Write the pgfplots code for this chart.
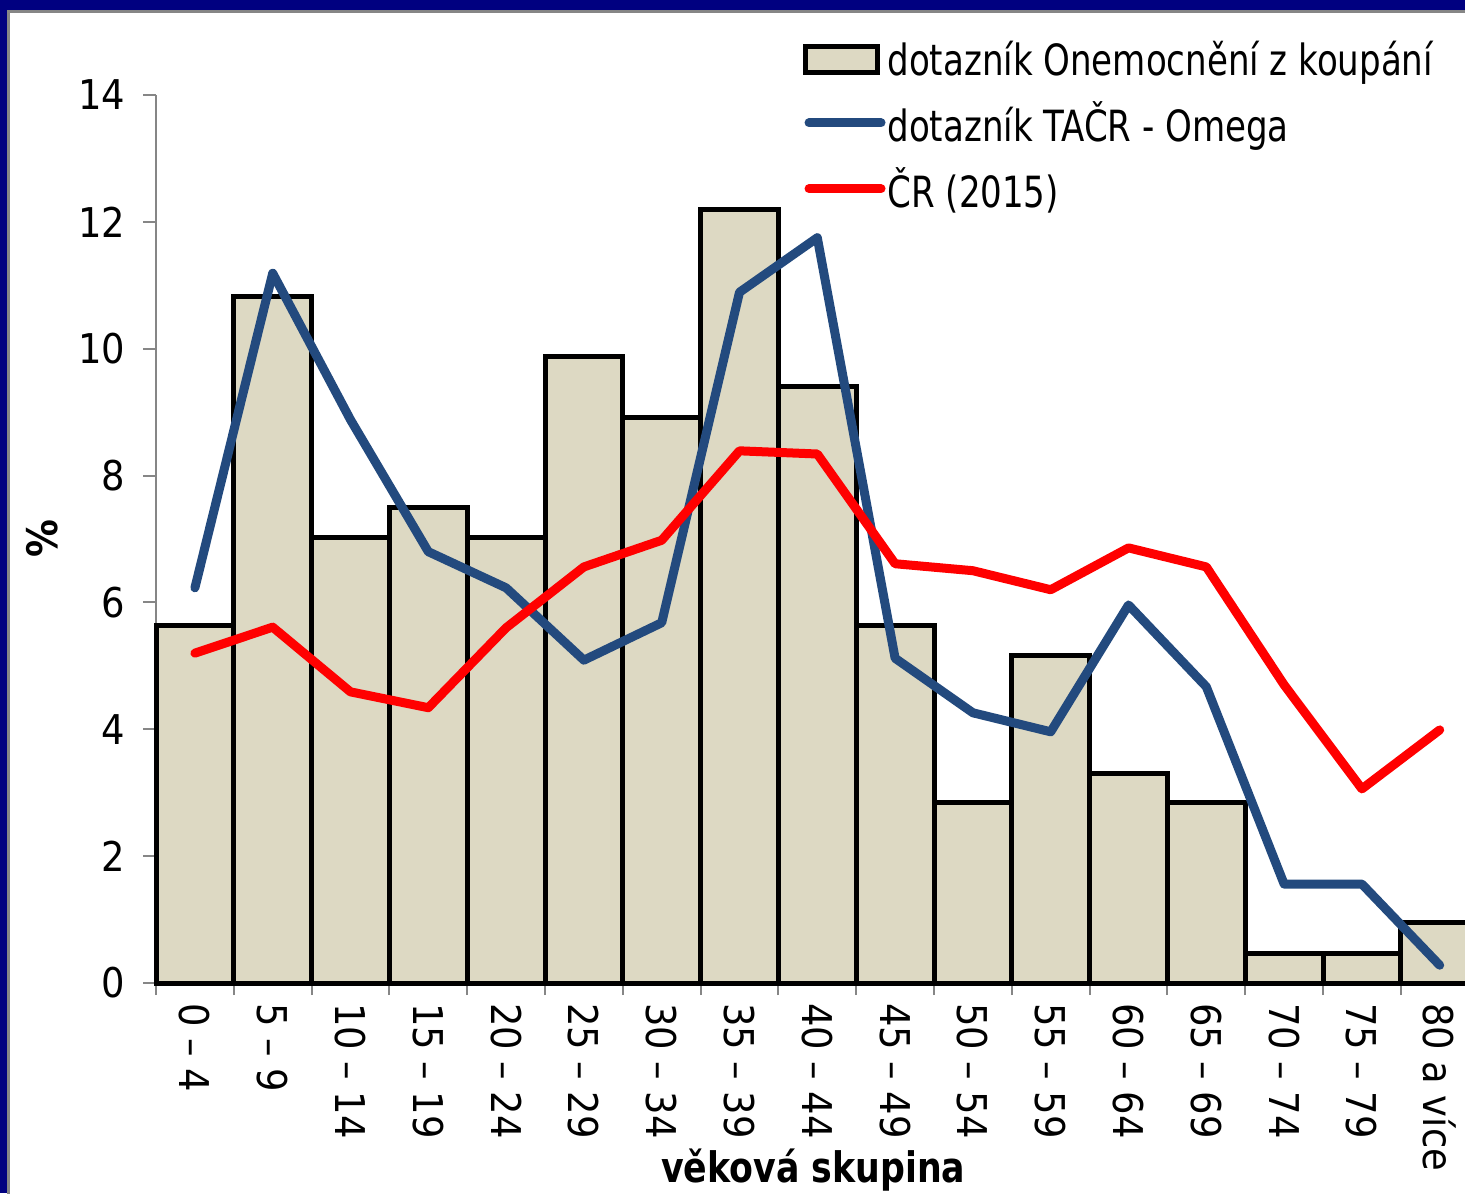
\documentclass[border=0pt]{standalone}
\usepackage{pgfplots}
\pgfplotsset{compat=1.18}
\usepackage{fontspec}
\setmainfont{DejaVu Sans Condensed}
\newfontfamily\legfont{DejaVu Sans Condensed}[FakeStretch=0.88]
\newfontfamily\labfont{DejaVu Sans Condensed}[FakeStretch=0.92]
\definecolor{barfill}{HTML}{DDD9C3}
\definecolor{tacr}{HTML}{234A7E}
\definecolor{framecol}{HTML}{000080}
\definecolor{axisgray}{HTML}{868686}

\begin{document}
\begin{tikzpicture}
\useasboundingbox (0pt,0pt) rectangle (732.5pt,596.5pt);
\clip (0pt,0pt) rectangle (732.5pt,596.5pt);
% slide frame
\fill[framecol] (0pt,0pt) rectangle (732.5pt,596.5pt);
\fill[white] (3.5pt,-5pt) rectangle (740pt,591.5pt);
\draw[axisgray, line width=1.2pt] (4.25pt,-5pt) -- (4.25pt,590.75pt) -- (740pt,590.75pt);
\begin{axis}[
  at={(78pt,105pt)}, anchor=south west,
  scale only axis, width=661.3pt, height=444pt,
  xmin=-0.5, xmax=16.5, ymin=0, ymax=14,
  axis x line*=bottom, axis y line*=left,
  axis line style={draw=axisgray, line width=1pt, -},
  tick align=outside,
  major tick length=6.5pt, minor tick length=6pt,
  ytick={0,2,...,14},
  ytick style={draw=axisgray, line width=1pt},
  xtick={0,...,16},
  xtick style={draw=none},
  minor xtick={-0.5,0.5,...,16.5},
  minor x tick style={draw=axisgray, line width=1pt},
  xticklabels={0 – 4,5 – 9,10 – 14,15 – 19,20 – 24,25 – 29,30 – 34,35 – 39,40 – 44,45 – 49,50 – 54,55 – 59,60 – 64,65 – 69,70 – 74,75 – 79,80 a více},
  xticklabel style={rotate=-90, anchor=west, font=\fontsize{20.5}{24}\selectfont},
  yticklabel style={font=\fontsize{20.5}{24}\selectfont, xshift=-5.5pt},
  /pgf/number format/assume math mode=true,
  xlabel={věková skupina}, ylabel={\%},
  every axis x label/.style={at={(axis description cs:0.497,-0.2106)}, anchor=center, font=\labfont\bfseries\fontsize{21}{25}\selectfont},
  every axis y label/.style={at={(axis description cs:-0.086,0.5)}, rotate=90, anchor=center, font=\bfseries\fontsize{21}{25}\selectfont},
  clip=false,
  legend style={at={(axis description cs:0.484,1.068)}, anchor=north west, draw=none, fill=none,
    font=\legfont\fontsize{21.5}{25}\selectfont, row sep=9.5pt, nodes={inner sep=1pt}},
  legend cell align=left,
]
\addplot[ybar, bar width=38.9pt, bar shift=0pt, fill=barfill, draw=black, line width=2.5pt,
  legend image code/.code={\draw[fill=barfill, draw=black, line width=2.5pt] (0pt,-6.5pt) rectangle (36pt,6.5pt);}]
  coordinates {(0,5.64) (1,10.82) (2,7.03) (3,7.50) (4,7.03) (5,9.87) (6,8.92) (7,12.20) (8,9.40)
    (9,5.64) (10,2.84) (11,5.17) (12,3.31) (13,2.84) (14,0.47) (15,0.47) (16,0.95)};
\addlegendentry{dotazník Onemocnění z koupání}
\addplot[tacr, line width=4.5pt, line cap=round, line join=round,
  legend image code/.code={\draw[tacr, line width=4.5pt, line cap=round] (2pt,0pt) -- (38pt,0pt);}]
  coordinates {(0,6.23) (1,11.19) (2,8.88) (3,6.80) (4,6.23) (5,5.09) (6,5.68) (7,10.89) (8,11.75)
    (9,5.12) (10,4.26) (11,3.96) (12,5.96) (13,4.67) (14,1.56) (15,1.56) (16,0.28)};
\addlegendentry{dotazník TAČR - Omega}
\addplot[red, line width=4.5pt, line cap=round, line join=round,
  legend image code/.code={\draw[red, line width=4.5pt, line cap=round] (2pt,0pt) -- (38pt,0pt);}]
  coordinates {(0,5.20) (1,5.61) (2,4.59) (3,4.34) (4,5.60) (5,6.56) (6,6.98) (7,8.39) (8,8.34)
    (9,6.61) (10,6.50) (11,6.20) (12,6.86) (13,6.56) (14,4.70) (15,3.06) (16,3.99)};
\addlegendentry{ČR (2015)}
\end{axis}
\end{tikzpicture}
\end{document}
